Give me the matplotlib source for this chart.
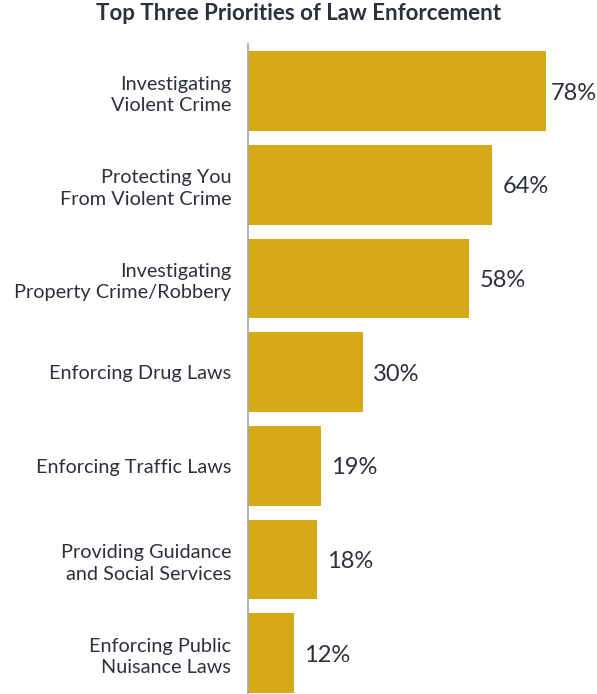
import matplotlib.pyplot as plt
plt.rcParams['font.family'] = ['Lato', 'DejaVu Sans']

categories = ['Investigating\nViolent Crime', 'Protecting You\nFrom Violent Crime',
              'Investigating\nProperty Crime/Robbery', 'Enforcing Drug Laws',
              'Enforcing Traffic Laws', 'Providing Guidance\nand Social Services',
              'Enforcing Public\nNuisance Laws']
values = [78, 64, 58, 30, 19, 18, 12]

bar_color = '#D6AA16'
text_color = '#2B303A'

fig = plt.figure(figsize=(5.97, 6.94), dpi=100)
ax = fig.add_axes([248 / 597, 0, 1 - 248 / 597, 650 / 694])

pos = list(range(len(values)))
ax.barh(pos, values, height=0.85, color=bar_color)
ax.set_xlim(0, 91.4)
ax.set_ylim(6.435, -0.502)

ax.set_yticks(pos)
ax.set_yticklabels(categories, fontsize=14.3, color=text_color, linespacing=1.32, ha='right')
ax.tick_params(axis='y', length=0, pad=12)
ax.set_xticks([])
for s in ['top', 'right', 'bottom']:
    ax.spines[s].set_visible(False)
ax.spines['left'].set_color('#A3A7AD')
ax.spines['left'].set_linewidth(1.2)

for p, v in zip(pos, values):
    off = 5 if v == max(values) else 10
    ax.annotate(f'{v}%', (v, p), xytext=(off, -2), textcoords='offset pixels',
                va='center', ha='left', fontsize=17, color=text_color)

fig.text(298 / 597, 1 - 14 / 694, 'Top Three Priorities of Law Enforcement',
         ha='center', va='center', fontsize=16, fontweight='bold', color=text_color)

plt.savefig('out.png', dpi=100)
